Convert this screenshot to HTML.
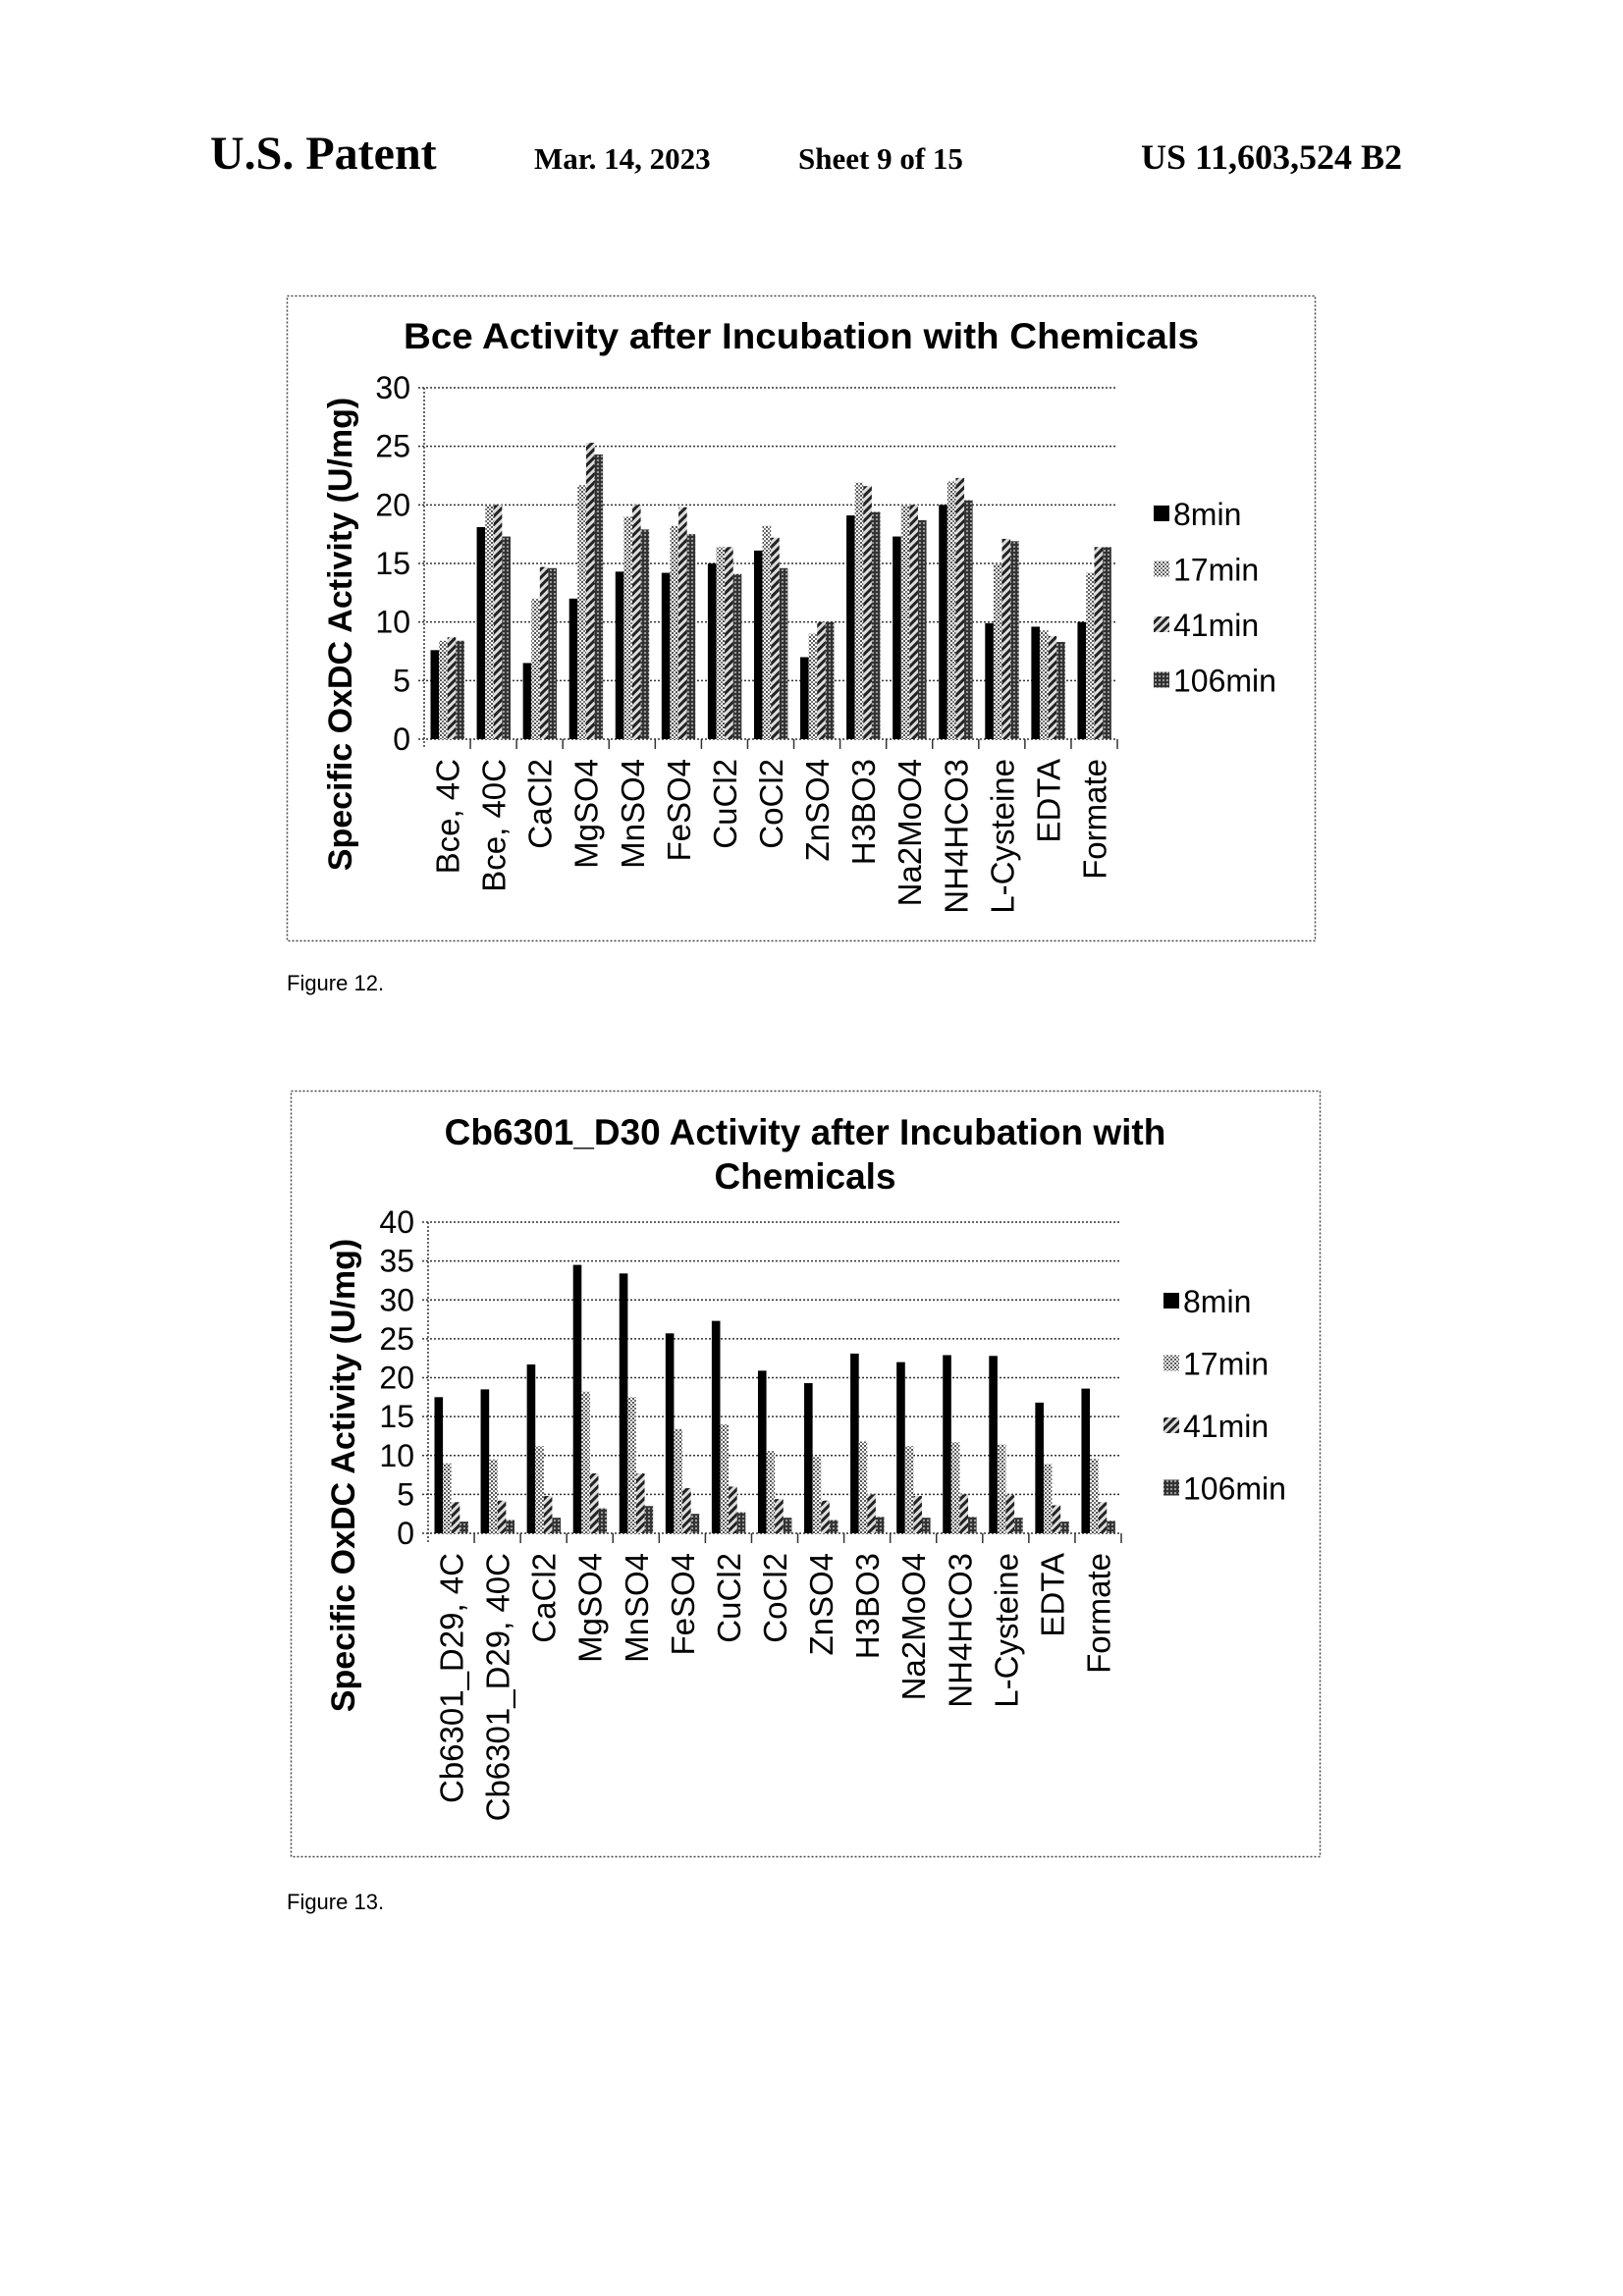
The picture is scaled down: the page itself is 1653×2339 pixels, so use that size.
<!DOCTYPE html>
<html><head><meta charset="utf-8">
<style>
html,body{margin:0;padding:0;background:#fff;}
svg{display:block;}
</style></head>
<body>
<svg id="s" width="1653" height="2339" xmlns="http://www.w3.org/2000/svg" font-family="Liberation Sans, sans-serif">
<defs>
<pattern id="p17" width="4" height="4" patternUnits="userSpaceOnUse"><rect width="4" height="4" fill="#fff"/><rect width="2" height="2" fill="#555"/><rect x="2" y="2" width="2" height="2" fill="#777"/></pattern>
<pattern id="p41" width="6" height="6" patternUnits="userSpaceOnUse" patternTransform="rotate(45)"><rect width="6" height="6" fill="#ddd"/><rect width="3" height="6" fill="#222"/></pattern>
<pattern id="p106" width="4" height="4" patternUnits="userSpaceOnUse"><rect width="4" height="4" fill="#333"/><rect width="2" height="2" fill="#999"/></pattern>
</defs>
<g font-family="Liberation Serif, serif" font-weight="bold" fill="#000">
<text x="214" y="172" font-size="48">U.S. Patent</text>
<text x="544" y="172" font-size="31">Mar. 14, 2023</text>
<text x="813" y="172" font-size="31">Sheet 9 of 15</text>
<text x="1428" y="172" font-size="36" text-anchor="end">US 11,603,524 B2</text>
</g>
<text x="292" y="1009" font-size="22">Figure 12.</text>
<text x="292" y="1945" font-size="22">Figure 13.</text>
<rect x="292.5" y="301.5" width="1047" height="657" fill="none" stroke="#444" stroke-width="1.5" stroke-dasharray="2,2"/>
<rect x="296.5" y="1111.5" width="1048" height="780" fill="none" stroke="#444" stroke-width="1.5" stroke-dasharray="2,2"/>
<text x="816" y="355" font-size="37" font-weight="bold" text-anchor="middle" textLength="810" lengthAdjust="spacingAndGlyphs">Bce Activity after Incubation with Chemicals</text>
<text x="820" y="1166" font-size="37" font-weight="bold" text-anchor="middle">Cb6301_D30 Activity after Incubation with</text>
<text x="820" y="1211" font-size="37" font-weight="bold" text-anchor="middle">Chemicals</text>
<g id="c1"></g><g id="c2"></g>
</svg>
<script>
var cats1=["Bce, 4C","Bce, 40C","CaCl2","MgSO4","MnSO4","FeSO4","CuCl2","CoCl2","ZnSO4","H3BO3","Na2MoO4","NH4HCO3","L-Cysteine","EDTA","Formate"];
var cats2=cats1.slice();cats2[0]="Cb6301_D29, 4C";cats2[1]="Cb6301_D29, 40C";
var d1=[[7.6,8.4,8.7,8.4],[18.1,20,20,17.3],[6.5,12,14.7,14.6],[12,21.7,25.3,24.3],[14.3,19,20,17.9],[14.2,18.2,19.8,17.5],[15,16.4,16.4,14.1],[16.1,18.2,17.2,14.6],[7,9,10,10],[19.1,21.9,21.6,19.4],[17.3,20,20,18.7],[20,22,22.3,20.4],[9.9,15,17.1,16.9],[9.6,9.3,8.8,8.3],[10,14.2,16.4,16.4]];
var d2=[[17.5,9,4,1.5],[18.5,9.5,4.2,1.7],[21.7,11.2,4.8,2],[34.5,18.2,7.7,3.2],[33.4,17.5,7.7,3.5],[25.7,13.4,5.8,2.5],[27.3,14,6,2.7],[20.9,10.6,4.4,2],[19.3,9.8,4.2,1.7],[23.1,11.8,5,2.1],[22,11.2,4.8,2],[22.9,11.7,5,2.1],[22.8,11.4,4.9,2],[16.8,8.9,3.6,1.5],[18.6,9.6,4,1.6]];
var fills=["#000","url(#p17)","url(#p41)","url(#p106)"];
var names=["8min","17min","41min","106min"];
function chart(id,cats,d,x0,x1,y0,ytop,vmax,step,ytitleX,ytitleY,legX,legY,legDy){
 var h="",cw=(x1-x0)/15,sc=(y0-ytop)/vmax;
 for(var v=0;v<=vmax;v+=step){var y=y0-v*sc;
  h+='<line x1="'+(x0-6)+'" x2="'+x1+'" y1="'+y+'" y2="'+y+'" stroke="#333" stroke-width="1.5" stroke-dasharray="2,2"/>';
  h+='<text x="'+(x0-14)+'" y="'+(y+11)+'" font-size="32" text-anchor="end">'+v+'</text>';}
 h+='<line x1="'+x0+'" x2="'+x0+'" y1="'+ytop+'" y2="'+(y0+10)+'" stroke="#333" stroke-width="1.5" stroke-dasharray="2,2"/>';
 for(var i=0;i<15;i++){var cx=x0+i*cw;
  h+='<line x1="'+(cx+cw)+'" x2="'+(cx+cw)+'" y1="'+y0+'" y2="'+(y0+10)+'" stroke="#333" stroke-width="1.5"/>';
  for(var j=0;j<4;j++){var bh=d[i][j]*sc;
   h+='<rect x="'+(cx+6.5+j*8.6)+'" y="'+(y0-bh)+'" width="8.6" height="'+bh+'" fill="'+fills[j]+'"/>';}
  var lx=cx+cw/2+12;
  h+='<text transform="translate('+lx+','+(y0+20)+') rotate(-90)" font-size="33" text-anchor="end">'+cats[i]+'</text>';}
 h+='<text transform="translate('+ytitleX+','+ytitleY+') rotate(-90)" font-size="34" font-weight="bold" text-anchor="middle">Specific OxDC Activity (U/mg)</text>';
 for(var j=0;j<4;j++){var ly=legY+j*legDy;
  h+='<rect x="'+legX+'" y="'+(ly-20)+'" width="16" height="16" fill="'+fills[j]+'"/>';
  h+='<text x="'+(legX+20)+'" y="'+ly+'" font-size="32">'+names[j]+'</text>';}
 document.getElementById(id).innerHTML=h;}
chart("c1",cats1,d1,432,1138,753,395,30,5,358,646,1175,535,56.5);
chart("c2",cats2,d2,436,1142,1562,1245,40,5,361,1503,1185,1337,63.5);
</script>
</body></html>
